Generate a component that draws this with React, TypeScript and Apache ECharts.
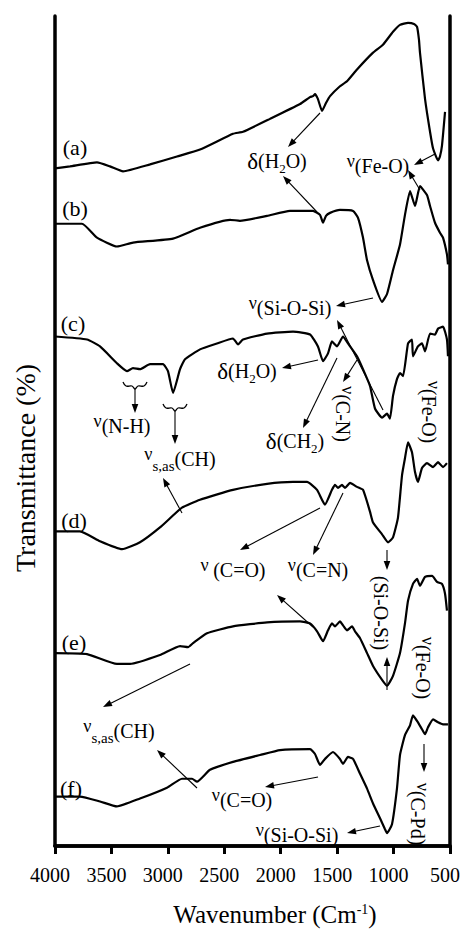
import React, { useEffect, useRef } from "react";
import * as echarts from "echarts";

// Spectra: [wavenumber (cm-1), transmittance (arbitrary, stacked offset)]
const specA: [number, number][] = [[4000,685],[3867,687],[3628,691],[3513,687],[3397,682],[3158,689],[2919,697],[2715,704],[2423,720],[2334,722],[2095,735],[1829,750],[1740,757],[1714,758],[1696,760],[1670,755],[1634,743],[1599,751],[1563,758],[1475,768],[1413,773],[1324,785],[1182,802],[1094,810],[1005,823],[943,830],[872,832],[819,831],[792,828],[775,815],[766,802],[721,755],[677,722],[650,705],[606,693],[589,697],[571,708],[544,742]];
const specB: [number, number][] = [[4000,629],[3761,629],[3628,615],[3451,606],[3309,610],[2954,614],[2715,625],[2449,633],[2361,632],[2121,637],[1918,642],[1714,642],[1652,638],[1625,630],[1599,637],[1563,640],[1475,643],[1359,642],[1315,635],[1271,615],[1235,592],[1182,572],[1102,550],[1058,558],[1005,582],[943,608],[899,638],[854,662],[810,647],[766,667],[704,658],[677,647],[633,630],[589,620],[562,615],[527,598],[518,588]];
const specC: [number, number][] = [[4000,515],[3716,512],[3601,505],[3451,488],[3362,480],[3309,483],[3247,482],[3158,487],[3043,487],[2999,480],[2954,458],[2892,482],[2848,492],[2715,502],[2565,508],[2423,513],[2378,507],[2334,512],[2121,518],[1891,520],[1740,517],[1670,505],[1625,490],[1581,498],[1546,510],[1501,505],[1448,515],[1404,508],[1324,495],[1271,482],[1209,465],[1164,442],[1102,433],[1058,437],[1032,432],[1005,455],[970,472],[943,478],[916,475],[872,508],[837,512],[828,495],[784,505],[748,508],[721,500],[677,518],[633,517],[606,523],[562,525],[527,512],[518,495]];
const specD: [number, number][] = [[4000,318],[3778,318],[3601,308],[3406,300],[3247,307],[3070,322],[2875,342],[2715,350],[2423,360],[2121,366],[1891,368],[1767,368],[1678,360],[1608,345],[1546,360],[1519,365],[1492,362],[1457,365],[1430,362],[1386,367],[1324,363],[1271,360],[1209,338],[1182,327],[1102,315],[1049,307],[1005,312],[961,332],[925,375],[899,392],[872,408],[837,398],[810,378],[784,368],[748,382],[704,387],[650,383],[606,388],[562,383],[527,387]];
const specE: [number, number][] = [[4000,195],[3716,194],[3451,184],[3335,184],[3070,193],[2892,202],[2821,201],[2777,205],[2653,215],[2423,222],[2121,226],[1829,227],[1740,225],[1678,217],[1625,207],[1581,218],[1546,225],[1519,222],[1475,227],[1448,223],[1413,218],[1368,222],[1342,217],[1297,210],[1235,195],[1182,182],[1102,168],[1058,162],[1005,172],[943,195],[899,225],[872,248],[828,265],[792,270],[766,263],[721,272],[659,273],[615,267],[571,265],[544,255],[527,238]];
const specF: [number, number][] = [[4000,50],[3778,50],[3601,45],[3451,40],[3247,48],[3008,59],[2875,68],[2786,68],[2742,65],[2627,77],[2423,85],[2183,92],[2006,97],[1740,98],[1696,93],[1652,82],[1608,88],[1537,95],[1475,88],[1448,83],[1404,90],[1359,88],[1297,73],[1235,58],[1182,43],[1120,28],[1076,17],[1058,13],[1014,22],[970,58],[943,92],[899,112],[854,122],[828,132],[784,125],[748,118],[721,113],[695,120],[650,128],[606,125],[562,123],[518,123]];

const spectra = [specA, specB, specC, specD, specE, specF];
const sampleLabels = ["(a)", "(b)", "(c)", "(d)", "(e)", "(f)"];

const SERIF = "'Liberation Serif', 'Times New Roman', serif";

const rich = {
  m: { fontSize: 20, lineHeight: 28, verticalAlign: "middle", fontFamily: SERIF, fill: "#000", color: "#000" },
  v: { fontSize: 18, lineHeight: 18, verticalAlign: "top", fontFamily: SERIF, fill: "#000", color: "#000" },
  d: { fontSize: 23, lineHeight: 28, verticalAlign: "middle", fontFamily: SERIF, fill: "#000", color: "#000" },
  s: { fontSize: 13, lineHeight: 10, verticalAlign: "bottom", fontFamily: SERIF, fill: "#000", color: "#000" },
  q: { fontSize: 15, lineHeight: 20, verticalAlign: "bottom", fontFamily: SERIF, fill: "#000", color: "#000" },
};

function txt(x: number, y: number, text: string, rotation = 0) {
  return {
    type: "text",
    x,
    y,
    rotation,
    z: 10,
    style: {
      text,
      rich,
      fill: "#000",
      fontFamily: SERIF,
      fontSize: 20,
      align: "center",
      textAlign: "center",
      verticalAlign: "middle",
      textVerticalAlign: "middle",
    },
  };
}

function arrow(x1: number, y1: number, x2: number, y2: number) {
  const dx = x2 - x1, dy = y2 - y1;
  const len = Math.hypot(dx, dy);
  const ux = dx / len, uy = dy / len;
  const hl = 9, hw = 3.3;
  const bx = x2 - ux * hl, by = y2 - uy * hl;
  return [
    { type: "line", z: 10, shape: { x1, y1, x2: bx + ux * 2, y2: by + uy * 2 }, style: { stroke: "#000", lineWidth: 1.1 } },
    { type: "polygon", z: 10, shape: { points: [[x2, y2], [bx - uy * hw, by + ux * hw], [bx + uy * hw, by - ux * hw]] }, style: { fill: "#000" } },
  ];
}

function brace(cx: number, y: number, hw: number) {
  return {
    type: "polyline",
    z: 10,
    shape: {
      points: [[cx - hw, y - 3], [cx - hw + 3, y + 1], [cx - 3, y + 1], [cx, y + 4], [cx + 3, y + 1], [cx + hw - 3, y + 1], [cx + hw, y - 3]],
      smooth: 0.4,
    },
    style: { stroke: "#000", lineWidth: 1.3, fill: null },
  };
}

const frameLine = { show: true, lineStyle: { color: "#000", width: 3.5 } };

export default function App() {
  const ref = useRef<HTMLDivElement>(null);
  useEffect(() => {
    if (!ref.current) return;
    const chart = echarts.init(ref.current, null, { renderer: "svg" });
    const V = -Math.PI / 2;
    const graphics: any[] = [
      ...sampleLabels.map((t, i) => ({
        type: "text",
        x: [75, 75, 73, 74, 74, 71][i],
        y: [147, 208, 323, 520, 642, 788][i],
        z: 10,
        style: { text: t, fontFamily: SERIF, fontSize: 22, fill: "#000", align: "center", verticalAlign: "middle", textAlign: "center", textVerticalAlign: "middle" },
      })),
      txt(277, 161, "{d|δ}{m|(H}{s|2}{m|O)}"),
      txt(378, 166, "{v|ν}{m|(Fe-O)}"),
      txt(290, 308, "{v|ν}{m|(Si-O-Si)}"),
      txt(247, 371, "{d|δ}{m|(H}{s|2}{m|O)}"),
      txt(122, 426, "{v|ν}{m|(N-H)}"),
      txt(180, 459, "{v|ν}{q|s,as}{m|(CH)}"),
      txt(295, 441, "{d|δ}{m|(CH}{s|2}{m|)}"),
      txt(233, 570, "{v|ν }{m|(C=O)}"),
      txt(318, 570, "{v|ν}{m|(C=N)}"),
      txt(119, 731, "{v|ν}{q|s,as}{m|(CH)}"),
      txt(242, 800, "{v|ν}{m|(C=O)}"),
      txt(297, 835, "{v|ν}{m|(Si-O-Si)}"),
      txt(343, 414, "{v|ν}{m|(C-N)}", V),
      txt(429, 412, "{v|ν}{m|(Fe-O)}", V),
      txt(381, 613, "{m|(Si-O-Si)}", V),
      txt(423, 668, "{v|ν}{m|(Fe-O)}", V),
      txt(418, 814, "{v|ν}{m|(C-Pd)}", V),
      brace(135, 385, 12),
      brace(175, 407, 12),
      ...arrow(320, 113, 288, 147),
      ...arrow(317, 212, 283, 176),
      ...arrow(435, 154, 414, 165),
      ...arrow(420, 190, 408, 170),
      ...arrow(373, 298, 336, 306),
      ...arrow(383, 410, 337, 320),
      ...arrow(318, 360, 282, 368),
      ...arrow(337, 358, 303, 428),
      ...arrow(357, 360, 343, 382),
      ...arrow(135, 389, 135, 413),
      ...arrow(175, 411, 175, 444),
      ...arrow(182, 513, 163, 478),
      ...arrow(320, 508, 240, 550),
      ...arrow(343, 493, 313, 555),
      ...arrow(387, 550, 387, 570),
      ...arrow(387, 690, 387, 657),
      ...arrow(313, 627, 277, 595),
      ...arrow(190, 664, 103, 707),
      ...arrow(197, 788, 157, 750),
      ...arrow(318, 777, 265, 787),
      ...arrow(380, 826, 347, 833),
      ...arrow(424, 744, 424, 772),
    ];
    chart.setOption({
      animation: false,
      backgroundColor: "#fff",
      grid: { left: 55, right: 16, top: 16, bottom: 77 },
      xAxis: [
        {
          type: "value",
          min: 500,
          max: 4000,
          interval: 500,
          inverse: true,
          axisLine: frameLine,
          axisTick: { show: true, inside: false, length: 8, lineStyle: { color: "#000", width: 3 } },
          splitLine: { show: false },
          axisLabel: { color: "#000", fontSize: 20, fontFamily: SERIF, margin: 19, padding: [0, 10, 0, 0], formatter: (v: number) => String(v) },
          name: "Wavenumber (Cm{sup|-1})",
          nameLocation: "middle",
          nameGap: 56,
          nameTextStyle: {
            color: "#000",
            fontSize: 25,
            fontFamily: SERIF,
            padding: [0, 0, 0, 45],
            rich: { sup: { fontSize: 14, verticalAlign: "top", fontFamily: SERIF, color: "#000", lineHeight: 14 } },
          },
        },
        {
          type: "value",
          position: "top",
          min: 500,
          max: 4000,
          inverse: true,
          axisLine: frameLine,
          axisTick: { show: false },
          axisLabel: { show: false },
          splitLine: { show: false },
        },
      ],
      yAxis: [
        {
          type: "value",
          min: 0,
          max: 839,
          axisLine: frameLine,
          axisTick: { show: false },
          axisLabel: { show: false },
          splitLine: { show: false },
          name: "Transmittance (%)",
          nameLocation: "middle",
          nameGap: 16,
          nameTextStyle: { color: "#000", fontSize: 28, fontFamily: SERIF, padding: [0, 74, 0, 0] },
        },
        {
          type: "value",
          position: "right",
          min: 0,
          max: 839,
          axisLine: frameLine,
          axisTick: { show: false },
          axisLabel: { show: false },
          splitLine: { show: false },
        },
      ],
      series: spectra.map((d, i) => ({
        type: "line",
        name: sampleLabels[i],
        data: d,
        showSymbol: false,
        smooth: 0.15,
        lineStyle: { color: "#000", width: 2.2 },
        z: 3,
      })),
      graphic: graphics,
    });
    return () => chart.dispose();
  }, []);
  return <div ref={ref} style={{ position: "fixed", left: 0, top: 0, width: 466, height: 932, background: "#fff" }} />;
}
